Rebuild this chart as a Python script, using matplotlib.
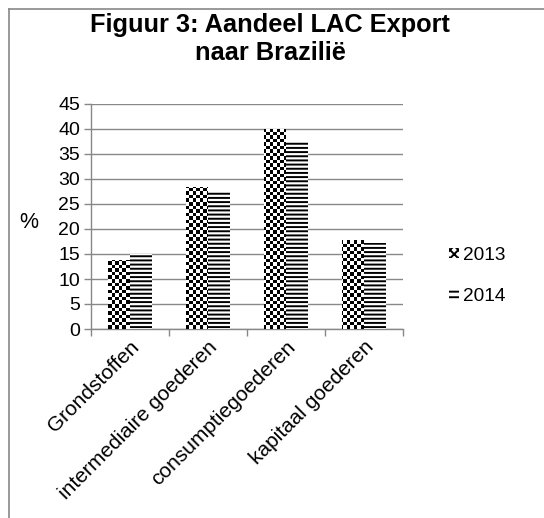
import numpy as np
import matplotlib
matplotlib.use('Agg')
import matplotlib.pyplot as plt
from matplotlib.patches import Patch
from matplotlib.lines import Line2D

plt.rcParams['font.family'] = ['Liberation Sans', 'DejaVu Sans']
plt.rcParams['hatch.linewidth'] = 1.4

# Data (aandeel in %)
categorieen = ['Grondstoffen', 'intermediaire goederen', 'consumptiegoederen', 'kapitaal goederen']
jaren = ['2013', '2014']
waarden_2013 = [13.8, 28.3, 39.9, 17.8]
waarden_2014 = [15.0, 27.5, 37.6, 17.1]

fig = plt.figure(figsize=(5.44, 5.18), dpi=100)
ax = fig.add_axes([91 / 544, 1 - 329 / 518, 312 / 544, 225 / 518])

x = np.arange(len(categorieen))
breedte = 0.28

# 2013: dambordpatroon (textuur via afbeelding, geknipt op de balk)
bars13 = ax.bar(x - breedte / 2, waarden_2013, breedte, color='white', linewidth=0, zorder=3)
ny, nx = 64, 89
ii, jj = np.indices((ny, nx))
dambord = ((ii + jj) % 2).astype(float)
for b in bars13:
    im = ax.imshow(dambord, cmap='gray', interpolation='nearest', aspect='auto',
                   extent=[0, 1, 0, 1], transform=ax.transAxes, zorder=4)
    im.set_clip_path(b)

# 2014: horizontale strepen
bars14 = ax.bar(x + breedte / 2, waarden_2014, breedte, color='white', edgecolor='black',
                linewidth=0, hatch='----', zorder=3)

ax.set_xlim(-0.5, len(categorieen) - 0.5)
ax.set_ylim(0, 45)
ax.set_yticks(np.arange(0, 46, 5))
ax.set_xticks(x)
ax.set_xticklabels(categorieen, rotation=45, ha='right', va='top', rotation_mode='anchor', fontsize=15)
ax.set_xticks(np.arange(-0.5, len(categorieen), 1), minor=True)
ax.tick_params(axis='x', which='major', length=0, pad=6)
ax.tick_params(axis='x', which='minor', length=5, color='#888888', width=1)
ax.tick_params(axis='y', length=5, color='#888888', width=1, labelsize=14, pad=3)

ax.yaxis.grid(True, color='#888888', linewidth=1)
ax.set_axisbelow(True)
for s in ['top', 'right']:
    ax.spines[s].set_visible(False)
for s in ['left', 'bottom']:
    ax.spines[s].set_color('#888888')
    ax.spines[s].set_linewidth(1)

fig.text(270 / 544, 1 - 39 / 518, 'Figuur 3: Aandeel LAC Export\nnaar Brazilië', ha='center', va='center',
         fontsize=18.3, fontweight='bold', linespacing=1.2)
fig.text(29 / 544, 1 - 222 / 518, '%', ha='center', va='center', fontsize=15.5)

handles = [Patch(facecolor='white', edgecolor='black', linewidth=0, hatch='xxxx'),
           Patch(facecolor='white', edgecolor='black', linewidth=0, hatch='---')]
fig.legend(handles, jaren, loc='center left', bbox_to_anchor=(432 / 544, 1 - 276 / 518), frameon=False,
           fontsize=13.7, handlelength=0.5, handleheight=0.45, handletextpad=0.25, labelspacing=1.25)

# kader rond de figuur (links en boven)
fig.add_artist(Line2D([9 / 544, 9 / 544], [0, 1 - 9 / 518], transform=fig.transFigure, color='#888888', linewidth=1.2))
fig.add_artist(Line2D([9 / 544, 1], [1 - 9 / 518, 1 - 9 / 518], transform=fig.transFigure, color='#888888', linewidth=1.2))

fig.savefig('out.png', dpi=100, facecolor='white')
